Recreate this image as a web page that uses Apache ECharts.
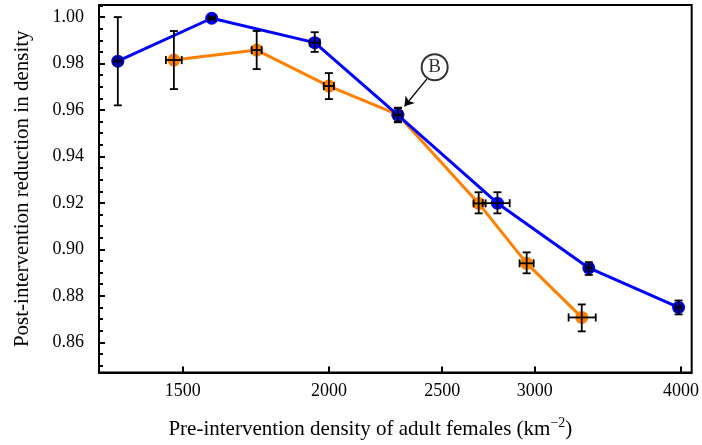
<!DOCTYPE html>
<html>
<head>
<meta charset="utf-8">
<script src="https://cdn.jsdelivr.net/npm/echarts@6/dist/echarts.min.js"></script>
<style>
  html, body { margin: 0; padding: 0; background: #fff; }
  #chart { width: 702px; height: 445px; }
</style>
</head>
<body>
<div id="chart"></div>
<script>
// density (km^-2), reduction, error ranges
const blueX    = [1320, 1588, 1945, 2291, 2787, 3336, 3981];
const blueXLo  = [1310, 1578, 1926, 2273, 2707, 3316, 3957];
const blueXHi  = [1330, 1598, 1964, 2309, 2855, 3356, 4005];
const blueY    = [0.981, 0.9995, 0.989, 0.9578, 0.9199, 0.892, 0.875];
const blueYLo  = [0.962, 0.999, 0.985, 0.9547, 0.9155, 0.889, 0.872];
const blueYHi  = [1.000, 1.000, 0.9935, 0.9608, 0.9246, 0.8945, 0.878];

const orangeX   = [1474, 1735, 2000, 2291, 2686, 2952, 3290];
const orangeXLo = [1451, 1718, 1980, 2273, 2659, 2911, 3206];
const orangeXHi = [1497, 1752, 2020, 2309, 2723, 2993, 3382];
const orangeY   = [0.9815, 0.9858, 0.9703, 0.958, 0.9198, 0.894, 0.8707];
const orangeYLo = [0.969, 0.9776, 0.9647, 0.955, 0.9155, 0.8897, 0.8647];
const orangeYHi = [0.994, 0.994, 0.9759, 0.961, 0.9246, 0.8987, 0.8763];

const xTicks = [1500, 2000, 2500, 3000, 4000];
const yTicks = [0.86, 0.88, 0.90, 0.92, 0.94, 0.96, 0.98, 1.00];
const yMinorTicks = [];
for (let v = 850; v <= 1005; v += 5) yMinorTicks.push(v / 1000);

// label B: circle position and arrow
const labelB = [2463, 0.9784];
const arrowFrom = [2425, 0.9733];
const arrowTo = [2321, 0.9616];

const FONT = "Liberation Serif";

function pts(xs, ys) {
  return xs.map((x, i) => [x, ys[i]]);
}
function errRows(xs, ys, xlo, xhi, ylo, yhi) {
  return xs.map((x, i) => [x, ys[i], xlo[i], xhi[i], ylo[i], yhi[i]]);
}

// error bars with caps
function renderErr(params, api) {
  const x = api.value(0), y = api.value(1);
  const c = api.coord([x, y]);
  const yl = api.coord([x, api.value(4)]);
  const yh = api.coord([x, api.value(5)]);
  const xl = api.coord([api.value(2), y]);
  const xh = api.coord([api.value(3), y]);
  const st = { stroke: "#000", lineWidth: 1.8 };
  const cap = 4;
  const line = (x1, y1, x2, y2) => ({ type: "line", shape: { x1, y1, x2, y2 }, style: st });
  return {
    type: "group",
    children: [
      line(c[0], yl[1], c[0], yh[1]),
      line(c[0] - cap, yl[1], c[0] + cap, yl[1]),
      line(c[0] - cap, yh[1], c[0] + cap, yh[1]),
      line(xl[0], c[1], xh[0], c[1]),
      line(xl[0], c[1] - cap, xl[0], c[1] + cap),
      line(xh[0], c[1] - cap, xh[0], c[1] + cap)
    ]
  };
}

const chart = echarts.init(document.getElementById("chart"));

chart.setOption({
  animation: false,
  grid: {
    left: 99, right: 10, top: 5, bottom: 72,
    show: true, borderColor: "#000", borderWidth: 2
  },
  xAxis: {
    type: "log",
    logBase: 10,
    min: 1272,
    max: 4085,
    name: "Pre-intervention density of adult females (km{sup|−2})",
    nameLocation: "middle",
    nameGap: 44,
    nameTextStyle: {
      fontFamily: FONT, fontSize: 21, color: "#000",
      padding: [0, 50, 0, 0],
      rich: { sup: { fontFamily: FONT, fontSize: 14, color: "#000", verticalAlign: "top", padding: [0, 0, 12, 0] } }
    },
    axisLine: { lineStyle: { color: "#000", width: 2 } },
    axisTick: { inside: true, length: 6, lineStyle: { width: 2, color: "#000" }, customValues: xTicks },
    axisLabel: { customValues: xTicks, margin: 10, fontFamily: FONT, fontSize: 18, color: "#000",
      formatter: v => String(Math.round(v)) },
    splitLine: { show: false },
    minorTick: { show: false }
  },
  yAxis: [{
    type: "value",
    min: 0.847,
    max: 1.0052,
    name: "Post-intervention reduction in density",
    nameLocation: "middle",
    nameGap: 66,
    nameTextStyle: { fontFamily: FONT, fontSize: 21, color: "#000" },
    axisLine: { show: true, lineStyle: { color: "#000", width: 2 } },
    axisTick: { inside: true, length: 6, lineStyle: { width: 2, color: "#000" }, customValues: yTicks },
    axisLabel: { customValues: yTicks, margin: 15, fontFamily: FONT, fontSize: 18, color: "#000",
      formatter: v => v.toFixed(2) },
    splitLine: { show: false }
  }, {
    type: "value",
    position: "left",
    min: 0.847,
    max: 1.0052,
    axisLine: { show: false },
    axisTick: { show: true, inside: true, length: 4, lineStyle: { width: 2, color: "#000" }, customValues: yMinorTicks },
    axisLabel: { show: false },
    splitLine: { show: false }
  }],
  series: [
    {
      name: "orange",
      type: "line",
      data: pts(orangeX, orangeY),
      symbol: "circle",
      symbolSize: 13,
      itemStyle: { color: "#ff8000" },
      lineStyle: { color: "#ff8000", width: 3 },
      z: 2
    },
    {
      name: "blue",
      type: "line",
      data: pts(blueX, blueY),
      symbol: "circle",
      symbolSize: 13,
      itemStyle: { color: "#0000ff" },
      lineStyle: { color: "#0000ff", width: 3 },
      z: 3
    },
    {
      type: "custom",
      renderItem: renderErr,
      data: errRows(orangeX, orangeY, orangeXLo, orangeXHi, orangeYLo, orangeYHi),
      encode: { x: 0, y: 1 },
      z: 4
    },
    {
      type: "custom",
      renderItem: renderErr,
      data: errRows(blueX, blueY, blueXLo, blueXHi, blueYLo, blueYHi),
      encode: { x: 0, y: 1 },
      z: 4
    },
    {
      type: "scatter",
      data: [labelB],
      symbol: "circle",
      symbolSize: 26,
      itemStyle: { color: "#fff", borderColor: "#000", borderWidth: 2 },
      label: { show: true, position: "inside", formatter: "B", fontFamily: FONT, fontSize: 19, color: "#000" },
      markLine: {
        silent: true,
        symbol: ["none", "arrow"],
        symbolSize: 9,
        label: { show: false },
        lineStyle: { color: "#000", width: 1.3, type: "solid" },
        data: [[{ coord: arrowFrom }, { coord: arrowTo }]]
      },
      z: 5
    }
  ]
});
</script>
</body>
</html>
